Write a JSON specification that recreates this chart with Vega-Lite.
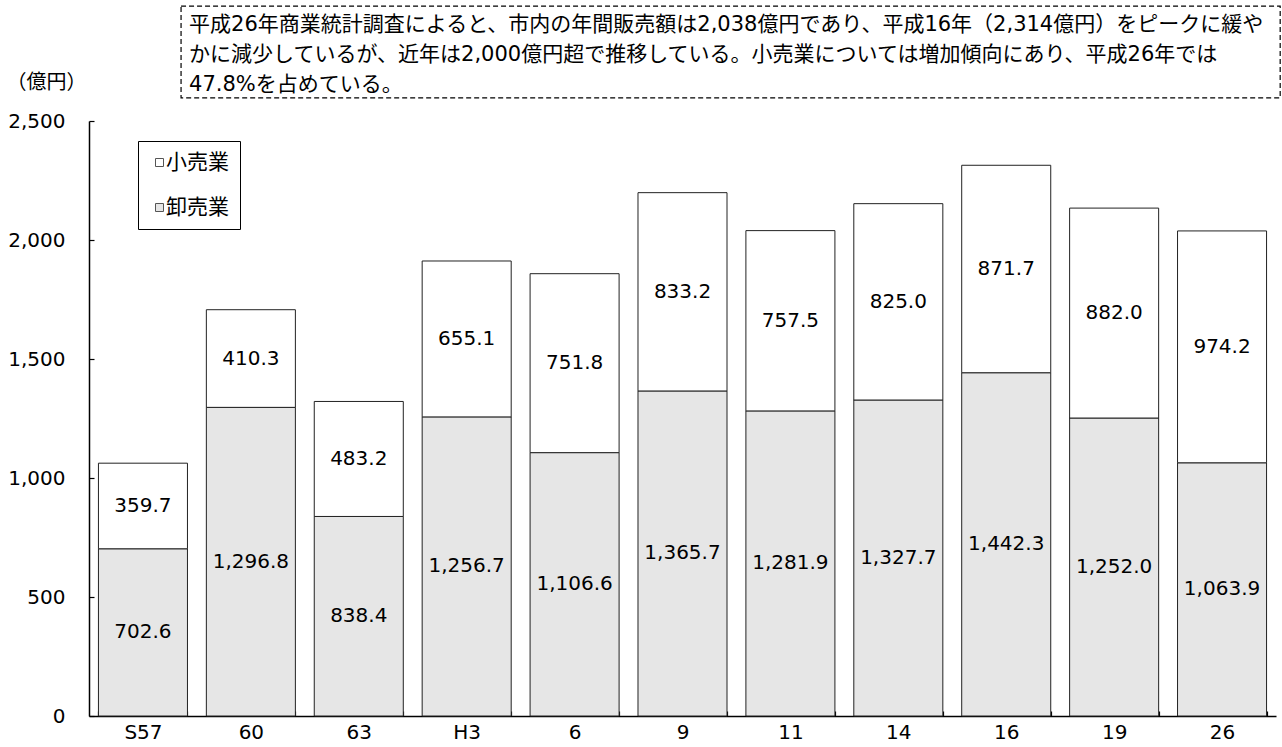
{
  "$schema": "https://vega.github.io/schema/vega-lite/v6.json",
  "width": 1187,
  "height": 595,
  "autosize": {"type": "none"},
  "padding": {"left": 89, "top": 121, "right": 6, "bottom": 31},
  "background": "white",
  "config": {
    "font": "'DejaVu Sans', 'Noto Sans CJK JP'",
    "view": {"stroke": null},
    "axis": {"grid": false, "domainColor": "black", "domainWidth": 1.5, "tickColor": "black", "tickWidth": 1.2, "labelColor": "black", "labelFontSize": 20, "titleColor": "black"}
  },
  "data": {
    "values": [
      {"year": "S57", "kind": "卸売業", "value": 702.6},
      {"year": "S57", "kind": "小売業", "value": 359.7},
      {"year": "60", "kind": "卸売業", "value": 1296.8},
      {"year": "60", "kind": "小売業", "value": 410.3},
      {"year": "63", "kind": "卸売業", "value": 838.4},
      {"year": "63", "kind": "小売業", "value": 483.2},
      {"year": "H3", "kind": "卸売業", "value": 1256.7},
      {"year": "H3", "kind": "小売業", "value": 655.1},
      {"year": "6", "kind": "卸売業", "value": 1106.6},
      {"year": "6", "kind": "小売業", "value": 751.8},
      {"year": "9", "kind": "卸売業", "value": 1365.7},
      {"year": "9", "kind": "小売業", "value": 833.2},
      {"year": "11", "kind": "卸売業", "value": 1281.9},
      {"year": "11", "kind": "小売業", "value": 757.5},
      {"year": "14", "kind": "卸売業", "value": 1327.7},
      {"year": "14", "kind": "小売業", "value": 825.0},
      {"year": "16", "kind": "卸売業", "value": 1442.3},
      {"year": "16", "kind": "小売業", "value": 871.7},
      {"year": "19", "kind": "卸売業", "value": 1252.0},
      {"year": "19", "kind": "小売業", "value": 882.0},
      {"year": "26", "kind": "卸売業", "value": 1063.9},
      {"year": "26", "kind": "小売業", "value": 974.2}
    ]
  },
  "layer": [
    {
      "mark": {"type": "bar", "stroke": "#222", "strokeWidth": 1},
      "encoding": {
        "x": {
          "field": "year", "type": "nominal",
          "scale": {"domain": ["S57", "60", "63", "H3", "6", "9", "11", "14", "16", "19", "26"], "paddingInner": 0.175, "paddingOuter": 0.0875},
          "axis": {"title": null, "tickBand": "extent", "tickSize": -5, "labelAngle": 0, "labelPadding": 11}
        },
        "y": {
          "field": "value", "type": "quantitative", "stack": "zero",
          "scale": {"domain": [0, 2500], "nice": false},
          "axis": {"values": [0, 500, 1000, 1500, 2000, 2500], "format": ",.0f", "tickSize": -5, "labelPadding": 29, "title": "（億円）", "titleAngle": 0, "titleX": -43, "titleY": -39, "titleAlign": "center", "titleBaseline": "middle", "titleFontSize": 20, "titleFontWeight": "normal"}
        },
        "color": {
          "field": "kind", "type": "nominal",
          "scale": {"domain": ["小売業", "卸売業"], "range": ["#ffffff", "#e6e6e6"]},
          "legend": {"title": null, "orient": "none", "legendX": 49, "legendY": 20, "direction": "vertical", "padding": 11, "strokeColor": "black", "fillColor": "white", "symbolType": "square", "symbolSize": 64, "symbolStrokeColor": "#555", "symbolStrokeWidth": 1, "labelFontSize": 21, "labelColor": "black", "labelOffset": -4, "rowPadding": 23}
        },
        "order": {"field": "kind", "sort": "ascending"}
      }
    },
    {
      "transform": [
        {"stack": "value", "groupby": ["year"], "sort": [{"field": "kind", "order": "ascending"}], "as": ["v0", "v1"]},
        {"calculate": "(datum.v0 + datum.v1) / 2", "as": "mid"}
      ],
      "mark": {"type": "text", "fontSize": 20, "color": "black"},
      "encoding": {
        "x": {"field": "year", "type": "nominal"},
        "y": {"field": "mid", "type": "quantitative"},
        "text": {"field": "value", "type": "quantitative", "format": ",.1f"}
      }
    },
    {
      "data": {"values": [{}]},
      "mark": {"type": "rect", "fillOpacity": 0, "stroke": "black", "strokeDash": [5, 3], "strokeWidth": 1.2},
      "encoding": {
        "x": {"datum": "S57", "bandPosition": 0.928},
        "x2": {"datum": "26", "bandPosition": 1.153},
        "y": {"datum": 2983},
        "y2": {"datum": 2597}
      }
    },
    {
      "data": {"values": [{}]},
      "mark": {
        "type": "text", "align": "left", "baseline": "top", "lineHeight": 30, "fontSize": 21, "color": "black",
        "text": ["平成26年商業統計調査によると、市内の年間販売額は2,038億円であり、平成16年（2,314億円）をピークに緩や", "かに減少しているが、近年は2,000億円超で推移している。小売業については増加傾向にあり、平成26年では", "47.8%を占めている。"]
      },
      "encoding": {
        "x": {"datum": "S57", "bandPosition": 1.018},
        "y": {"datum": 2950}
      }
    }
  ]
}
